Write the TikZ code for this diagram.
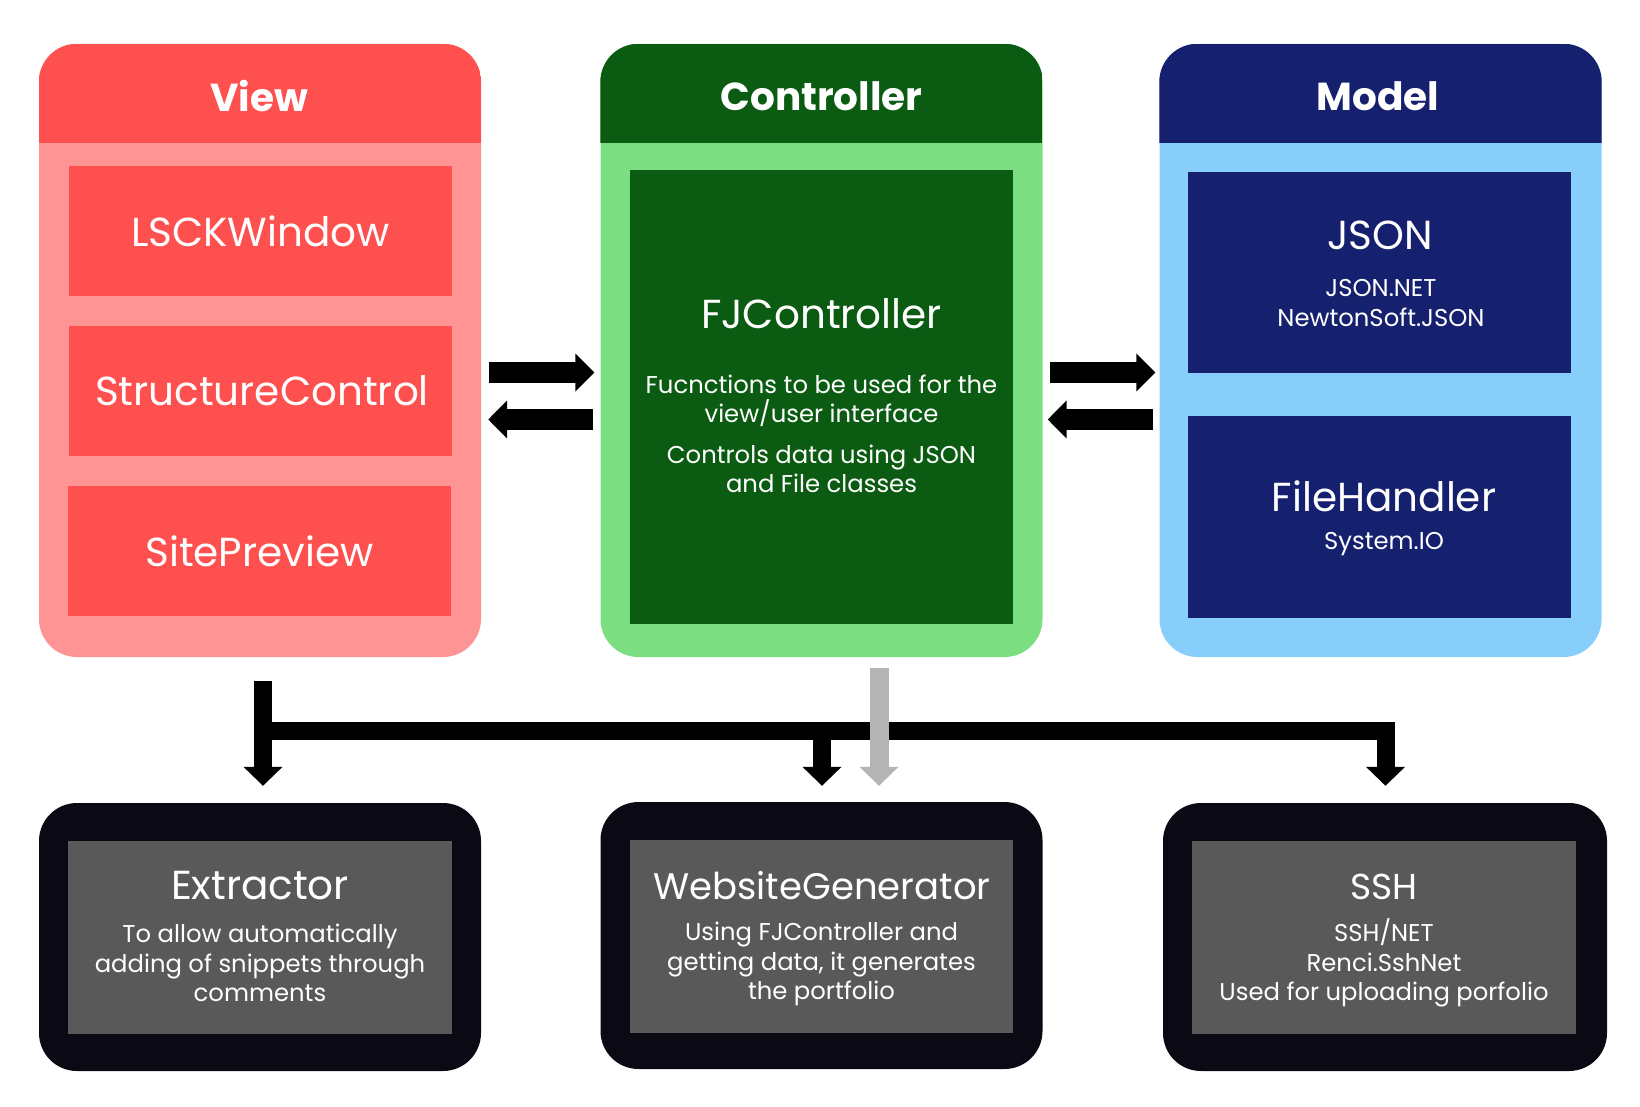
\documentclass[tikz,border=0pt]{standalone}
\usepackage{fontspec}
\setmainfont{Poppins}
\usetikzlibrary{arrows.meta}
\definecolor{vdark}{HTML}{FF5050}
\definecolor{vlight}{HTML}{FF9494}
\definecolor{cdark}{HTML}{0B5C12}
\definecolor{clight}{HTML}{7BDF82}
\definecolor{mdark}{HTML}{15206F}
\definecolor{mlight}{HTML}{87CEFB}
\definecolor{bdark}{HTML}{0B0A14}
\definecolor{bgray}{HTML}{595959}
\definecolor{arrgray}{HTML}{B4B4B4}
\begin{document}
\begin{tikzpicture}[x=1pt,y=-1pt,
  col/.style={rectangle, rounded corners=38pt, inner sep=0pt, minimum width=442pt, minimum height=613pt},
  inbox/.style={rectangle, inner sep=0pt, minimum width=383pt},
  hdr/.style={text=white, font=\fontsize{39}{47}\bfseries\selectfont},
  ttl/.style={text=white, font=\fontsize{40.5}{48}\selectfont},
  sub/.style={text=white, align=center, font=\fontsize{24.3}{29.5}\selectfont},
  harr/.style={line width=21pt, -{Triangle[width=37pt,length=19pt]}},
  varr/.style={line width=18pt, -{Triangle[width=38pt,length=19pt]}},
  bar/.style={line width=18pt}
]
\fill[white] (0,0) rectangle (1640,1107);
\useasboundingbox (0,0) rectangle (1640,1107);

% ---------- top columns ----------
\node[col, fill=vlight] (view) at (260,350.5) {};
\node[col, fill=clight] (ctrl) at (821.5,350.5) {};
\node[col, fill=mlight] (model) at (1380.5,350.5) {};

\begin{scope}
\clip[rounded corners=38pt] (view.north west) rectangle (view.south east);
\fill[vdark] (view.north west) rectangle ([yshift=-99pt]view.north east);
\end{scope}
\begin{scope}
\clip[rounded corners=38pt] (ctrl.north west) rectangle (ctrl.south east);
\fill[cdark] (ctrl.north west) rectangle ([yshift=-99pt]ctrl.north east);
\end{scope}
\begin{scope}
\clip[rounded corners=38pt] (model.north west) rectangle (model.south east);
\fill[mdark] (model.north west) rectangle ([yshift=-99pt]model.north east);
\end{scope}

\node[hdr] (viewh) at (259,96) {View};
\node[hdr] (ctrlh) at (821.5,96) {Controller};
\node[hdr] (modelh) at (1378,96) {Model};

% view boxes
\node[inbox, fill=vdark, minimum height=130pt] (lsck) at (260.5,231) {};
\node[ttl] (lsckt) at (260.5,231) {LSCKWindow};
\node[inbox, fill=vdark, minimum height=130pt] (struct) at (260.5,391) {};
\node[ttl] (structt) at (262,391) {StructureControl};
\node[inbox, fill=vdark, minimum height=130pt] (site) at (259.5,551) {};
\node[ttl] (sitet) at (259.5,551) {SitePreview};

% controller box
\node[inbox, fill=cdark, minimum height=454pt] (fjc) at (821.5,397) {};
\node[ttl] (fjct) at (821.5,314) {FJController};
\node[sub] (fjcd1) at (821.5,401) {Fucnctions to be used for the\\view/user interface};
\node[sub] (fjcd2) at (821.5,469) {Controls data using JSON\\and File classes};

% model boxes
\node[inbox, fill=mdark, minimum height=201pt] (json) at (1379.5,272.5) {};
\node[ttl] (jsont) at (1380,235) {JSON};
\node[sub] (jsond) at (1381,303) {JSON.NET\\NewtonSoft.JSON};
\node[inbox, fill=mdark, minimum height=202pt] (fh) at (1379.5,517) {};
\node[ttl] (fht) at (1384,496) {FileHandler};
\node[sub] (fhd) at (1384,544) {System.IO};

% ---------- bottom boxes ----------
\node[col, fill=bdark, minimum height=268pt] (ext) at (260,937) {};
\node[inbox, fill=bgray, minimum width=384pt, minimum height=193pt] (exti) at (260,937.5) {};
\node[ttl] (extt) at (260,886) {Extractor};
\node[sub] (extd) at (260,963) {To allow automatically\\adding of snippets through\\comments};

\node[col, fill=bdark, minimum height=267pt] (wg) at (821.5,935.5) {};
\node[inbox, fill=bgray, minimum height=193pt] (wgi) at (821.5,936.5) {};
\node[ttl, font=\fontsize{37}{44}\selectfont] (wgt) at (822,886) {WebsiteGenerator};
\node[sub] (wgd) at (821.5,964) {Using FJController and\\getting data, it generates\\the portfolio};

\node[col, fill=bdark, minimum width=444pt, minimum height=268pt] (ssh) at (1385,937) {};
\node[inbox, fill=bgray, minimum width=384pt, minimum height=193pt] (sshi) at (1384,937.5) {};
\node[ttl, font=\fontsize{36}{44}\selectfont] (ssht) at (1384,887) {SSH};
\node[sub] (sshd) at (1384,963) {SSH/NET\\Renci.SshNet\\Used for uploading porfolio};

% ---------- connectors ----------
\draw[harr] ([xshift=8pt,yshift=-22pt]view.east) -- ([xshift=-6pt,yshift=-22pt]ctrl.west);
\draw[harr] ([xshift=-7pt,yshift=-69pt]ctrl.west) -- ([xshift=7pt,yshift=-69pt]view.east);
\draw[harr] ([xshift=7pt,yshift=-22pt]ctrl.east) -- ([xshift=-4pt,yshift=-22pt]model.west);
\draw[harr] ([xshift=-6pt,yshift=-69pt]model.west) -- ([xshift=5pt,yshift=-69pt]ctrl.east);

\coordinate (barL) at (254,731);
\coordinate (barR) at (1395,731);
\draw[bar] (barL) -- (barR);
\draw[varr] ([xshift=3pt,yshift=-24pt]view.south) -- ([xshift=3pt,yshift=17pt]ext.north);
\draw[varr] (822,722) -- ([xshift=0.5pt,yshift=16pt]wg.north);
\draw[varr] (1385.5,722) -- ([xshift=0.5pt,yshift=17pt]ssh.north);
\draw[varr, arrgray, line width=19pt] ([xshift=57.5pt,yshift=-11pt]ctrl.south) -- ([xshift=57.5pt,yshift=16pt]wg.north);
\end{tikzpicture}
\end{document}
